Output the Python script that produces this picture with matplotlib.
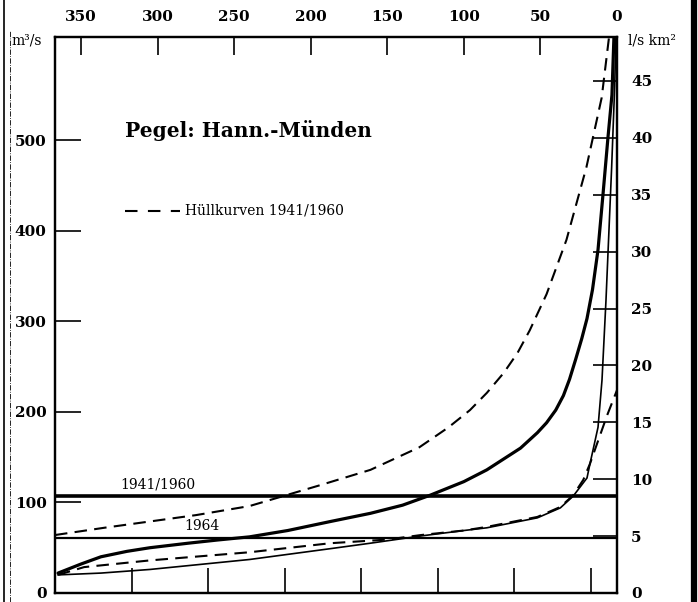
import matplotlib.pyplot as plt
from matplotlib.lines import Line2D

# Dauerlinie Pegel Hann.-Muenden, Tage (0..365) gegen Abfluss m3/s
upper_days = [367, 335, 305, 275, 240, 220, 194, 161, 129, 110, 96, 85, 74, 65, 57, 46, 33, 20, 10, 5.2]
upper_q = [64, 72, 79, 86, 96, 106, 119, 136, 161, 183, 202, 221, 243, 265, 290, 330, 390, 470, 547, 614]

mid_days = [365, 350, 337, 320, 305, 280, 261, 240, 215, 187, 161, 140, 122, 100, 85, 63, 52,
            46, 40, 35, 31, 27, 23, 19.6, 16, 12.4, 9.1, 5.9, 3.3, 2]
mid_q = [22, 32, 40, 46, 50, 55, 58.5, 62, 69, 79, 88, 97, 108, 123, 136, 160, 177,
         188, 202, 218, 236, 258, 281, 303, 335, 379, 441, 503, 550, 614]

lower_days = [365, 348, 305, 240, 187, 150, 128, 100, 85, 52, 37, 28.6, 22, 17.6, 13, 6.5, 0]
lower_q = [20, 28.6, 36, 45, 55, 59, 64, 69, 73, 84, 95, 108, 125, 143, 165, 196, 224]

thin_days = [365, 337, 305, 240, 187, 161, 128, 100, 85, 52, 37, 28.6, 19.6, 17.6, 12.4, 9.8, 7.2, 3.5, 1.5, 0.7]
thin_q = [20, 22, 26, 37, 49, 55, 63, 69, 72, 83, 94, 107, 127, 143, 183, 235, 323, 470, 560, 614]

mean_4160 = 107
mean_1964 = 61

day_ticks = [350, 300, 250, 200, 150, 100, 50, 0]
bottom_ticks = [317, 267, 217, 167, 117, 67, 17]
q_ticks = [0, 100, 200, 300, 400, 500]
spende_ticks = [0, 5, 10, 15, 20, 25, 30, 35, 40, 45]

serif = 'DejaVu Serif'

fig = plt.figure(figsize=(6.98, 6.02), dpi=100)
ax = fig.add_axes([55 / 698, 1 - 593 / 602, 562 / 698, 556 / 602])
ax.set_xlim(367, 0)
ax.set_ylim(0, 614)

dash = (6, 3.5)
ax.plot(upper_days, upper_q, color='black', lw=1.5, dashes=dash)
ax.plot(lower_days, lower_q, color='black', lw=1.5, dashes=dash)
ax.plot(mid_days, mid_q, color='black', lw=2.3, solid_capstyle='round', solid_joinstyle='round')
ax.plot(thin_days, thin_q, color='black', lw=1.2)

ax.axhline(mean_4160, color='black', lw=2.6)
ax.axhline(mean_1964, color='black', lw=1.6)
ax.text(300, mean_4160 + 5, '1941/1960', family=serif, fontsize=10, ha='center', va='bottom')
ax.text(271, mean_1964 + 5, '1964', family=serif, fontsize=10, ha='center', va='bottom')

ax.xaxis.tick_top()
ax.set_xticks(day_ticks)
ax.set_xticklabels([str(d) for d in day_ticks], family=serif, fontweight='bold', fontsize=11)
ax.set_xticks(bottom_ticks, minor=True)
ax.tick_params(axis='x', which='major', direction='in', length=13, width=1.2, pad=9,
               top=True, bottom=False, labeltop=True, labelbottom=False)
ax.tick_params(axis='x', which='minor', direction='in', length=18, width=1.2,
               top=False, bottom=True)

ax.set_yticks(q_ticks)
ax.set_yticklabels([str(q) for q in q_ticks], family=serif, fontweight='bold', fontsize=11)
ax.tick_params(axis='y', direction='in', length=19, width=1.2, pad=6)

ax2 = ax.twinx()
ax2.set_ylim(0, 48.86)
ax2.set_yticks(spende_ticks)
ax2.set_yticklabels([str(s) for s in spende_ticks], family=serif, fontweight='bold', fontsize=11)
ax2.tick_params(axis='y', direction='in', length=17, width=1.2, pad=10)

for a in (ax, ax2):
    for s in a.spines.values():
        s.set_linewidth(1.6)

fig.text(11 / 698, 1 - 41 / 602, 'm³/s', family=serif, fontsize=10, va='center')
fig.text(628 / 698, 1 - 41 / 602, 'l/s km²', family=serif, fontsize=10, va='center')

fig.text(125 / 698, 1 - 131 / 602, 'Pegel: Hann.-Münden', family=serif,
         fontweight='bold', fontsize=14.5, va='center')
fig.add_artist(Line2D([125 / 698, 180 / 698], [1 - 211 / 602, 1 - 211 / 602],
                      color='black', lw=1.5, dashes=(6, 5)))
fig.text(185 / 698, 1 - 210 / 602, 'Hüllkurven 1941/1960', family=serif,
         fontsize=10, va='center')

# Rand des Scans
fig.add_artist(Line2D([693.5 / 698, 693.5 / 698], [0, 1], color='black', lw=4.5))
fig.add_artist(Line2D([4 / 698, 4 / 698], [0, 1], color='black', lw=1.2))
fig.add_artist(Line2D([10 / 698, 10 / 698], [0, 0.95], color='black', lw=0.6, ls='-.'))

fig.savefig('out.png', dpi=100)
